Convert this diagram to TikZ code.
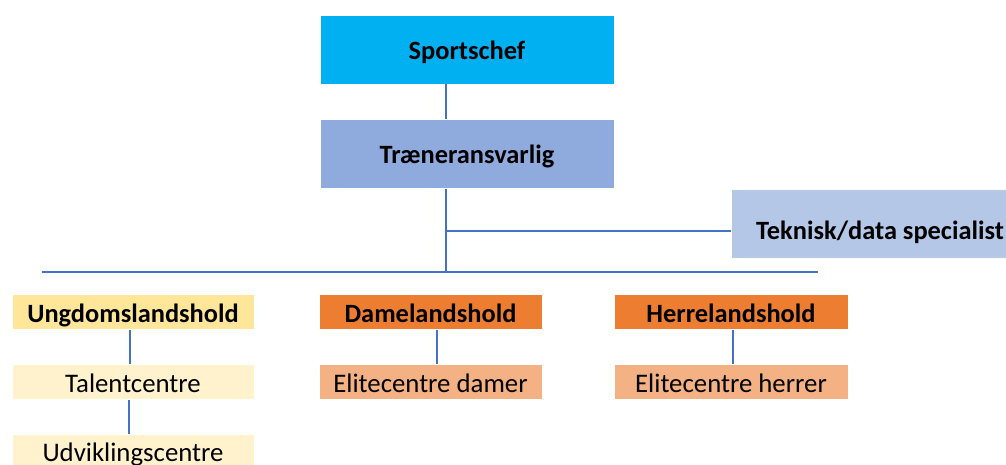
\documentclass[tikz,border=0pt]{standalone}
\usepackage{fontspec}
\setmainfont{Carlito}
\definecolor{cSport}{HTML}{00B0F0}
\definecolor{cTraen}{HTML}{8FAADC}
\definecolor{cTek}{HTML}{B4C7E7}
\definecolor{cUng}{HTML}{FFE699}
\definecolor{cTal}{HTML}{FFF2CC}
\definecolor{cDame}{HTML}{ED7D31}
\definecolor{cElite}{HTML}{F4B183}
\definecolor{cLine}{HTML}{4472C4}
\begin{document}
\begin{tikzpicture}[x=1pt,y=-1pt,
  box/.style={draw=white,line width=0.8pt,inner sep=0pt,anchor=center,text height=20pt,text depth=0pt},
  bigbox/.style={box,minimum width=294pt,minimum height=69pt,font=\fontsize{26.4}{30}\selectfont\bfseries},
  headbox/.style={box,minimum height=35pt,font=\fontsize{26.4}{30}\selectfont\bfseries},
  subbox/.style={box,minimum height=35pt,font=\fontsize{26.8}{30}\selectfont},
  conn/.style={draw=cLine,line width=1.2pt}]
\useasboundingbox (0,0) rectangle (1006,465);
\clip (0,0) rectangle (1006,465);
\node[bigbox,fill=cSport] (sport) at (467,49.5) {Sportschef};
\node[bigbox,fill=cTraen] (traen) at (467,154) {Træneransvarlig};
\node[bigbox,fill=cTek,minimum width=298pt,text height=30pt] (tek) at (880,224) {Teknisk/data specialist};
\coordinate (hl) at (42,272);
\coordinate (hr) at (818,272);
\coordinate (hm) at (446,272);
\coordinate (tj) at (446,231);
\node[headbox,fill=cUng,minimum width=242pt] (ung) at (133,312) {Ungdomslandshold};
\node[headbox,fill=cDame,minimum width=223pt] (dame) at (430.5,312) {Damelandshold};
\node[headbox,fill=cDame,minimum width=234pt] (herre) at (731,312) {Herrelandshold};
\node[subbox,fill=cTal,minimum width=242pt] (talent) at (133,382) {Talentcentre};
\node[subbox,fill=cTal,minimum width=242pt] (udv) at (133,451.5) {Udviklingscentre};
\node[subbox,fill=cElite,minimum width=223pt] (edame) at (430.5,382) {Elitecentre damer};
\node[subbox,fill=cElite,minimum width=234pt] (eherre) at (731,382) {Elitecentre herrer};
\draw[conn] (sport.south -| 446,0) -- (traen.north -| 446,0);
\draw[conn] (traen.south -| 446,0) -- (hm);
\draw[conn] (tj) -- (tek.west |- tj);
\draw[conn] (hl) -- (hr);
\draw[conn] (ung.south -| 130,0) -- (talent.north -| 130,0);
\draw[conn] (talent.south -| 129,0) -- (udv.north -| 129,0);
\draw[conn] (dame.south -| 437,0) -- (edame.north -| 437,0);
\draw[conn] (herre.south -| 733,0) -- (eherre.north -| 733,0);
\end{tikzpicture}
\end{document}
